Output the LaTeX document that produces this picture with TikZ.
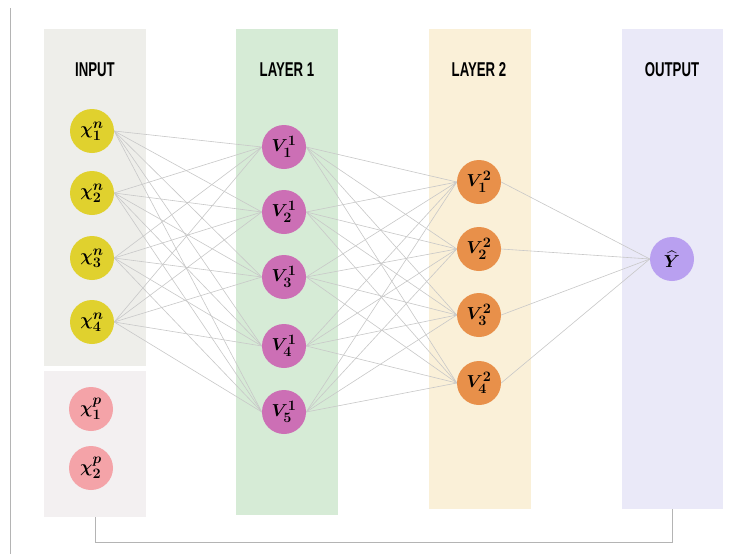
\documentclass[tikz,border=0pt]{standalone}
\usepackage{fontspec}
\usepackage{amsmath,bm}
\newfontfamily\labfont[FakeStretch=0.66]{Liberation Sans}
\definecolor{inbox}{HTML}{EEEEEA}
\definecolor{pbox}{HTML}{F3F0F1}
\definecolor{l1box}{HTML}{D6EBD6}
\definecolor{l2box}{HTML}{FAF0D8}
\definecolor{outbox}{HTML}{EAE9F8}
\definecolor{cyel}{HTML}{E0D12E}
\definecolor{cpink}{HTML}{F4A3A8}
\definecolor{cmag}{HTML}{CC6FB5}
\definecolor{corg}{HTML}{E8904A}
\definecolor{cpur}{HTML}{B9A0F0}
\definecolor{edgec}{HTML}{C8C8C8}
\pgfdeclarelayer{panels}
\pgfdeclarelayer{wires}
\pgfsetlayers{panels,wires,main}
\begin{document}
\begin{tikzpicture}[x=1pt,y=-1pt,
  neuron/.style={circle,minimum size=44pt,inner sep=0pt,font=\fontsize{19}{22}\selectfont},
  title/.style={font=\labfont\bfseries\fontsize{20}{22}\selectfont},
  conn/.style={draw=edgec,line width=0.6pt},
  frame/.style={draw=edgec!90!black,line width=0.9pt}]
\useasboundingbox (0,0) rectangle (746,554);
\begin{pgfonlayer}{panels}
\fill[white] (0,0) rectangle (746,554);
\fill[inbox] (44,29) rectangle (146,366);
\fill[pbox] (44,371) rectangle (146,517);
\fill[l1box] (236,29) rectangle (338,515);
\fill[l2box] (429,29) rectangle (531,509);
\fill[outbox] (622,29) rectangle (723,509);
\end{pgfonlayer}
% left rule
\coordinate (lt) at (10,8);
\coordinate (lb) at (10,554);
\draw[frame] (lt) -- (lb);
% titles
\node[title] (tin) at (95,70) {INPUT};
\node[title] (tl1) at (287,70) {LAYER 1};
\node[title] (tl2) at (479,70) {LAYER 2};
\node[title] (tout) at (672,70) {OUTPUT};
% input nodes
\node[neuron,fill=cyel] (x1) at (92,131) {$\bm{\chi_1^n}$};
\node[neuron,fill=cyel] (x2) at (92,193) {$\bm{\chi_2^n}$};
\node[neuron,fill=cyel] (x3) at (92,258) {$\bm{\chi_3^n}$};
\node[neuron,fill=cyel] (x4) at (92,322) {$\bm{\chi_4^n}$};
\node[neuron,fill=cpink] (p1) at (91,409) {$\bm{\chi_1^p}$};
\node[neuron,fill=cpink] (p2) at (91,468) {$\bm{\chi_2^p}$};
% layer 1
\node[neuron,fill=cmag] (a1) at (284,147) {$\bm{V_1^1}$};
\node[neuron,fill=cmag] (a2) at (284,212) {$\bm{V_2^1}$};
\node[neuron,fill=cmag] (a3) at (284,277) {$\bm{V_3^1}$};
\node[neuron,fill=cmag] (a4) at (284,346) {$\bm{V_4^1}$};
\node[neuron,fill=cmag] (a5) at (284,412) {$\bm{V_5^1}$};
% layer 2
\node[neuron,fill=corg] (b1) at (479,182) {$\bm{V_1^2}$};
\node[neuron,fill=corg] (b2) at (479,249) {$\bm{V_2^2}$};
\node[neuron,fill=corg] (b3) at (479,315) {$\bm{V_3^2}$};
\node[neuron,fill=corg] (b4) at (479,383) {$\bm{V_4^2}$};
% output
\node[neuron,fill=cpur] (y) at (672,259) {$\bm{\widehat{Y}}$};
% edges
\begin{pgfonlayer}{wires}
\foreach \i in {1,...,4}{\foreach \j in {1,...,5}{\draw[conn] (x\i.east) -- (a\j.west);}}
\foreach \i in {1,...,5}{\foreach \j in {1,...,4}{\draw[conn] (a\i.east) -- (b\j.west);}}
\foreach \i in {1,...,4}{\draw[conn] (b\i.east) -- (y.west);}
\end{pgfonlayer}
% bottom connector
\coordinate (cs) at (95,517);
\coordinate (ce) at (672,509);
\draw[frame] (cs) -- (95,542) -| (ce);
\end{tikzpicture}
\end{document}
